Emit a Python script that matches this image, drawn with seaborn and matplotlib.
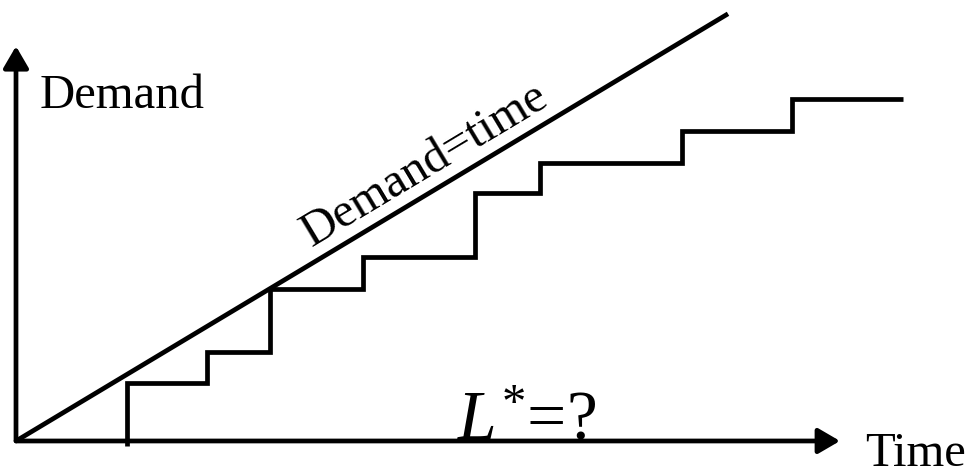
import numpy as np
import seaborn as sns
import matplotlib.pyplot as plt

# step function: time at which each step happens and the level reached
step_times = [11.1, 19.1, 25.4, 34.7, 45.9, 52.4, 66.6, 77.6]
step_levels = [9.7, 14.8, 25.3, 30.7, 41.3, 46.3, 51.7, 57.0]
step_start_level = -0.8
step_end_time = 88.7

# the Demand=time diagonal
diag_end = 71.2

# axis arrows
x_arrow_end = 82.4
y_arrow_end = 65.8

x_label = "Time"
y_label = "Demand"
line_label = "Demand=time"
question = r"$L^{*}$=?"

sns.set_theme(style="white")
plt.rcParams['font.family'] = ['Liberation Serif', 'DejaVu Serif']
plt.rcParams['text.color'] = 'black'
plt.rcParams['mathtext.fontset'] = 'custom'
plt.rcParams['mathtext.rm'] = 'Liberation Serif'
plt.rcParams['mathtext.it'] = 'Liberation Serif:italic'

fig = plt.figure(figsize=(9.7, 4.75), dpi=100)
ax = fig.add_axes([0, 0, 1, 1])
ax.set_xlim(-1.6, 95.4)
ax.set_ylim(-5.67, 73.5)
ax.axis('off')

lw = 3.4

# axes with arrows
arrow = dict(arrowstyle='-|>,head_length=0.6,head_width=0.35', lw=lw, color='black',
             mutation_scale=22, shrinkA=0, shrinkB=0)
ax.annotate('', xy=(x_arrow_end, 0), xytext=(0, 0), arrowprops=arrow)
ax.annotate('', xy=(0, y_arrow_end), xytext=(0, 0), arrowprops=arrow)

# diagonal Demand = time
sns.lineplot(x=[0, diag_end], y=[0, diag_end], color='black', lw=lw, ax=ax,
             estimator=None, sort=False, solid_capstyle='butt')

# step function
xs = [step_times[0]] + step_times + [step_end_time]
ys = [step_start_level] + step_levels + [step_levels[-1]]
sns.lineplot(x=xs, y=ys, color='black', lw=lw, ax=ax, estimator=None, sort=False,
             drawstyle='steps-post', solid_joinstyle='miter', solid_capstyle='butt')

fs = 35
ax.text(2.4, 55.5, y_label, fontsize=fs, ha='left', va='baseline')
ax.text(84.9, -4.1, x_label, fontsize=fs, ha='left', va='baseline')
ax.text(41.5, 44.2, line_label, fontsize=fs, ha='center', va='baseline',
        rotation=np.degrees(np.arctan(0.6)), rotation_mode='anchor')
ax.text(51.1, 0.17, question, fontsize=50, ha='center', va='baseline')

fig.savefig('out.png', dpi=100)
